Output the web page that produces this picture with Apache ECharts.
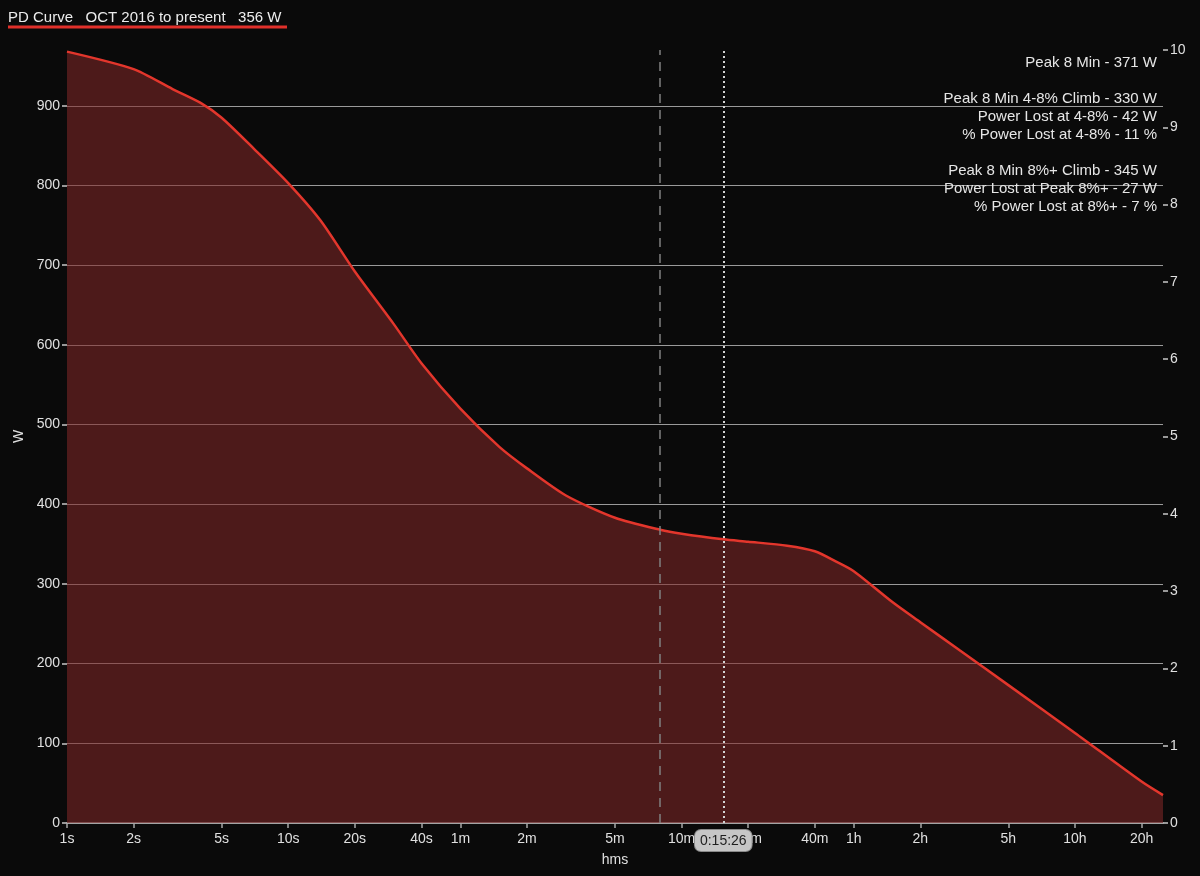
<!DOCTYPE html>
<html>
<head>
<meta charset="utf-8">
<script src="https://cdn.jsdelivr.net/npm/echarts@6/dist/echarts.min.js"></script>
<style>
html,body{margin:0;padding:0;background:#0a0a0a;}
#c{width:1200px;height:876px;}
</style>
</head>
<body>
<div id="c"></div>
<script>
// Duration (seconds) and power (W)
const durations = [1,2,3,4,5,7,10,14,20,30,40,60,90,120,180,300,480,600,926,1200,1800,2400,3000,3600,5400,7200,10800,18000,36000,72000,90000];
const watts     = [968,946,921,904,885,846,803,756,692,626,577,520,472,445,411,383,368,363,356,353,348,341,328,316,277,252,217,173,113,52,35];

const xTickValues = [1,2,5,10,20,40,60,120,300,600,1200,2400,3600,7200,18000,36000,72000];
const xTickLabels = ['1s','2s','5s','10s','20s','40s','1m','2m','5m','10m','20m','40m','1h','2h','5h','10h','20h'];
const yTickValues = [0,100,200,300,400,500,600,700,800,900];

const titleText = 'PD Curve   OCT 2016 to present   356 W';
const peakDuration = 480;      // 8 min reference line
const cursorDuration = 926;    // 0:15:26
const cursorLabel = '0:15:26';
const annotationLines = [
  'Peak 8 Min - 371 W',
  '',
  'Peak 8 Min 4-8% Climb - 330 W',
  'Power Lost at 4-8% - 42 W',
  '% Power Lost at 4-8% - 11 %',
  '',
  'Peak 8 Min 8%+ Climb - 345 W',
  'Power Lost at Peak 8%+ - 27 W',
  '% Power Lost at 8%+ - 7 %'
];

const FONT = '"Liberation Sans", Arial, Helvetica, sans-serif';
const labelMap = {};
xTickValues.forEach((v, i) => { labelMap[v] = xTickLabels[i]; });

const chart = echarts.init(document.getElementById('c'), null, {renderer: 'canvas'});
chart.setOption({
  backgroundColor: '#0a0a0a',
  animation: false,
  textStyle: {fontFamily: FONT},
  title: {
    text: titleText,
    left: 3, top: 5,
    textStyle: {color: '#ececec', fontSize: 15, fontWeight: 'normal', fontFamily: FONT}
  },
  graphic: [
    {type: 'rect', shape: {x: 8, y: 25.5, width: 279, height: 3}, style: {fill: '#e0302a'}, z: 10},
    {type: 'text', x: 1157, y: 54, z: 1,
     style: {text: annotationLines.join('\n'), align: 'right', verticalAlign: 'top',
             fill: '#e6e6e6', fontSize: 15, fontFamily: FONT, lineHeight: 18}}
  ],
  grid: {left: 67, right: 37, top: 50, bottom: 53, containLabel: false},
  xAxis: {
    type: 'log', logBase: 10, min: 1, max: 90000,
    name: 'hms', nameLocation: 'middle', nameGap: 30,
    nameTextStyle: {color: '#e0e0e0', fontSize: 14, fontFamily: FONT},
    axisLine: {show: true, lineStyle: {color: '#a8a8a8', width: 1.5}},
    axisTick: {show: true, length: 5, lineStyle: {color: '#a8a8a8', width: 1.5}, customValues: xTickValues},
    axisLabel: {color: '#e0e0e0', fontSize: 14, margin: 9, customValues: xTickValues,
      formatter: function (v) { const r = Math.round(v); return labelMap[r] !== undefined ? labelMap[r] : ''; }},
    splitLine: {show: false},
    minorTick: {show: false}, minorSplitLine: {show: false}
  },
  yAxis: [
    {
      type: 'value', min: 0, max: 970, interval: 100,
      name: 'W', nameLocation: 'middle', nameGap: 37,
      nameTextStyle: {color: '#e0e0e0', fontSize: 14, fontFamily: FONT},
      axisLine: {show: false},
      axisTick: {show: true, length: 5, lineStyle: {color: '#c8c8c8', width: 1.5}, customValues: yTickValues},
      axisLabel: {color: '#e0e0e0', fontSize: 14, margin: 7, customValues: yTickValues},
      splitLine: {show: true, lineStyle: {color: '#9a9a9a', width: 1}}
    },
    {
      type: 'value', min: 0, max: 10, interval: 1, position: 'right',
      axisLine: {show: false},
      axisTick: {show: true, length: 5, lineStyle: {color: '#c8c8c8', width: 1.5}},
      axisLabel: {color: '#e0e0e0', fontSize: 14, margin: 7},
      splitLine: {show: false}
    }
  ],
  series: [{
    type: 'line',
    data: durations.map((d, i) => [d, watts[i]]),
    showSymbol: false,
    smooth: 0.25,
    lineStyle: {color: '#e3362c', width: 2.5},
    areaStyle: {color: 'rgb(130,40,40)', opacity: 0.56},
    z: 3,
    markLine: {
      silent: true,
      symbol: ['none', 'none'],
      animation: false,
      data: [
        {xAxis: peakDuration, lineStyle: {color: '#808080', type: [9, 7], width: 1.5}, label: {show: false}},
        {xAxis: cursorDuration, lineStyle: {color: '#d4d4d4', type: [2, 3], width: 2},
         label: {show: true, position: 'start', formatter: cursorLabel, distance: 7,
                 backgroundColor: '#c6c6c6', borderColor: '#8a8a8a', borderWidth: 1, borderRadius: 6,
                 padding: [4, 5, 3, 5], color: '#1e1e1e', fontSize: 14, fontFamily: FONT}}
      ]
    }
  }]
});
</script>
</body>
</html>
